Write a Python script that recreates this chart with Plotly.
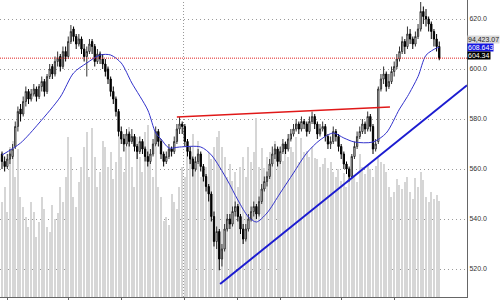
import plotly.graph_objects as go

# ---------------- data ----------------
opens = [566,563,561,564,565,569,577,584,582,587,591,588,590,592,589,593,595,591,597,601,
         598,603,605,601,607,605,611,616,613,610,612,608,605,607,611,609,603,606,604,602,
         600,596,591,588,583,575,572,570,574,571,573,569,567,571,568,565,563,566,570,575,
         571,566,563,565,568,567,571,576,578,577,571,567,564,560,563,566,561,557,553,550,
         541,531,535,524,528,536,540,538,543,545,541,536,532,536,540,543,545,542,547,552,
         555,557,562,566,568,563,567,570,568,572,574,576,578,576,579,578,575,579,581,578,
         574,576,577,573,570,571,575,573,569,566,562,560,557,565,569,573,575,578,576,581,
         577,568,571,592,596,598,593,595,599,601,604,607,611,609,614,612,610,613,616,623,
         621,620,618,615,612,609]
highs = [567,565,566,568,570,579,585,586,589,593,592,592,594,593,594,597,596,598,602,602,
         605,607,606,609,609,613,617.6,617,614,614,613,610,609,612,612,610,608,607,606,604,
         601,597,593,589,584,577,574,576,575,576,574,570,573,572,569,567,568,572,577,576,
         572,567,567,570,569,573,578,580.8,579,578,572,569,565,565,568,567,562,558,554,551,
         543,537,536,530,538,542,542,545,547,546,542,538,538,542,545,547,546,549,554,557,
         559,564,569,570,569,569,572,571,574,576,578,580,579,581,580,579,581,583,582,579,
         578,579,578,574,573,577,576,574,570,567,563,561,566,571,575,577,580,579,583,582,
         578,572,593,598,601,599,598,601,603,606,609,613,612,617,616,613,615,618,626.8,625,
         624,621,619,616,614,611]
lows = [560,559,560,562,564,568,575,579,581,585,586,587,589,587,588,591,589,590,596,596,
        597,601,599,600,603,604,610,611,608,609,606,603,597,606,606,601,602,602,600,597,
        594,589,586,581,573,570,567,569,569,570,567,564,566,566,563,561,562,565,569,569,
        564,561,562,564,565,566,570,574,574,569,565,562,557,559,562,559,555,551,547,539,
        529,528,519.5,521,527,535,536,537,541,539,534,530,531,535,539,541,540,541,546,551,
        553,556,561,564,561,562,566,566,567,571,573,575,574,575,576,573,574,578,576,572,
        573,575,571,568,568,570,571,567,564,560,558,555,556,564,568,572,574,574,575,575,
        566,567,570,591,594,591,592,594,597,600,603,606,606,608,610,608,609,612,615,618,
        617,615,612,609,607,603.5]
closes = [563,561,564,566,568,577,583,582,587,591,588,590,592,589,593,595,591,597,600,598,
          603,604,601,607,605,611,615,613,610,612,608,605,607,610,609,603,606,604,602,599,
          596,591,588,583,575,572,570,574,571,573,569,567,571,568,565,563,566,570,575,571,
          566,563,565,568,567,571,576,578,577,571,567,564,560,563,566,561,557,553,550,541,
          531,535,524,528,536,540,538,543,545,541,536,532,536,540,543,545,542,547,552,555,
          557,562,566,568,563,567,570,568,572,574,576,578,576,579,578,575,579,581,578,574,
          576,577,573,570,571,575,573,569,566,562,560,557,565,569,573,575,578,576,581,577,
          568,570,592,596,598,593,595,599,601,604,607,611,609,614,612,610,613,616,623,621,
          620,618,615,612,609,604.34]
volumes = [95,110,85,150,156,120,148,100,
           90,80,70,95,85,60,75,100,88,70,65,92,78,84,110,
           95,120,160,140,100,90,115,130,
           150,165,120,169,140,110,125,
           156,150,130,145,118,135,160,140,
           125,150,170,130,110,160,140,125,165,172,135,120,150,110,100,
           76,80,72,103,95,88,
           110,130,120,145,150,163,
           140,156,120,126,130,145,138,
           150,160,166,150,140,
           120,133,116,125,110,130,
           140,120,150,135,145,179,130,
           149,129,140,145,132,156,140,
           150,136,155,140,150,145,160,
           135,159,145,146,140,150,139,138,130,
           133,139,129,135,125,
           120,128,116,124,110,129,118,122,115,
           143,130,
           123,133,128,120,131,
           139,135,133,125,
           110,100,105,118,112,
           108,115,120,105,98,119,110,125,117,100,95,105,98,102,96]
bar_index = list(range(len(closes)))

ma_idx = [0, 7, 14, 22, 27, 32, 37, 41, 45, 49, 55, 58, 60, 63, 67, 75, 79, 85, 89, 93,
          96, 100, 105, 110, 115, 120, 125, 129, 133, 140, 145, 150, 153, 157, 160, 164, 165]
ma_val = [565.6, 570.4, 578.4, 588.8, 598.4, 602.4, 605.6, 605.6, 602.4, 594.4, 583.6, 574.4,
          572.0, 568.4, 568.8, 568.8, 565.6, 555.6, 547.6, 540.8, 538.8, 542.4, 550.4, 558.4,
          566.4, 571.6, 574.4, 572.4, 570.8, 570.8, 574.4, 584.0, 589.0, 597.0, 605.5, 608.4, 608.643]

month_ticks = [2, 25, 45, 69, 89, 105, 128, 148]
month_labels = ["Oct", "Nov", "Dec", "2010", "Feb", "Mar", "Apr", "May"]
year_break = 68.5

price_ticks = [520, 540, 560, 580, 600, 620]
red_trend_idx = [66, 146.4]
red_trend_price = [580.8, 584.8]
blue_trend_idx = [82.3, 175.5]
blue_trend_price = [514.0, 593.5]
last_close = 604.34
last_ma = 608.643
other_value = "94,423.07"

# ---------------- figure ----------------
fig = go.Figure()
fig.add_trace(go.Bar(x=bar_index, y=volumes, width=0.45, marker_color="#d6d6d6",
                     marker_line_width=0, yaxis="y", hoverinfo="skip"))
fig.add_trace(go.Candlestick(x=bar_index, open=opens, high=highs, low=lows, close=closes,
                             yaxis="y2", whiskerwidth=0,
                             increasing=dict(line=dict(color="#333333", width=1), fillcolor="#ffffff"),
                             decreasing=dict(line=dict(color="#000000", width=1), fillcolor="#000000")))
fig.add_trace(go.Scatter(x=ma_idx, y=ma_val, mode="lines", yaxis="y2",
                         line=dict(color="#3333cc", width=1, shape="spline", smoothing=0.8)))
fig.add_trace(go.Scatter(x=red_trend_idx, y=red_trend_price, mode="lines", yaxis="y2",
                         line=dict(color="#e01818", width=1.6)))
fig.add_trace(go.Scatter(x=blue_trend_idx, y=blue_trend_price, mode="lines", yaxis="y2",
                         line=dict(color="#1c1cd0", width=2), cliponaxis=True))

fig.add_shape(type="line", xref="paper", x0=0, x1=1, yref="y2", y0=last_close, y1=last_close,
              line=dict(color="#e02020", width=1, dash="1px,1px"))
fig.add_shape(type="line", xref="x", x0=year_break, x1=year_break, yref="paper", y0=0, y1=1,
              line=dict(color="#999999", width=1, dash="1px,2px"), layer="below")

lab_font = dict(family="Liberation Sans, Arial", size=7)
fig.add_annotation(xref="paper", x=1, xanchor="left", yref="y2", y=last_ma, yshift=8,
                   text=other_value, showarrow=False, bgcolor="#d9d9d9",
                   font=dict(lab_font, color="#222222"), borderpad=0)
fig.add_annotation(xref="paper", x=1, xanchor="left", yref="y2", y=last_ma, yshift=0,
                   text=f"{last_ma:.3f}", showarrow=False, bgcolor="#1515e0",
                   font=dict(lab_font, color="#ffffff"), borderpad=0)
fig.add_annotation(xref="paper", x=1, xanchor="left", yref="y2", y=last_close, yshift=3,
                   text=f"{last_close:.2f}", showarrow=False, bgcolor="#000000",
                   font=dict(lab_font, color="#ffffff"), borderpad=0)

fig.update_layout(
    width=501, height=300,
    margin=dict(l=0, r=34, t=0, b=3, autoexpand=False),
    paper_bgcolor="white", plot_bgcolor="white",
    showlegend=False, bargap=0,
    xaxis=dict(range=[-0.755, 175.47], rangeslider=dict(visible=False), automargin=False,
               showgrid=False, zeroline=False, showline=True, linecolor="#666666",
               ticks="outside", ticklen=3, tickcolor="#666666",
               tickvals=month_ticks, ticktext=month_labels,
               tickfont=dict(family="Liberation Sans, Arial", size=7, color="#333333")),
    yaxis=dict(range=[0, 297], visible=False, fixedrange=True),
    yaxis2=dict(range=[508.8, 627.6], overlaying="y", side="right", automargin=False,
                tickvals=price_ticks, ticktext=[f"{v:.1f}" for v in price_ticks],
                tickfont=dict(family="Liberation Sans, Arial", size=7, color="#333333"),
                showgrid=True, gridcolor="#9a9a9a", griddash="1px,3px", gridwidth=1,
                zeroline=False, showline=True, linecolor="#666666", ticks=""),
)

fig.write_html("out.html")
